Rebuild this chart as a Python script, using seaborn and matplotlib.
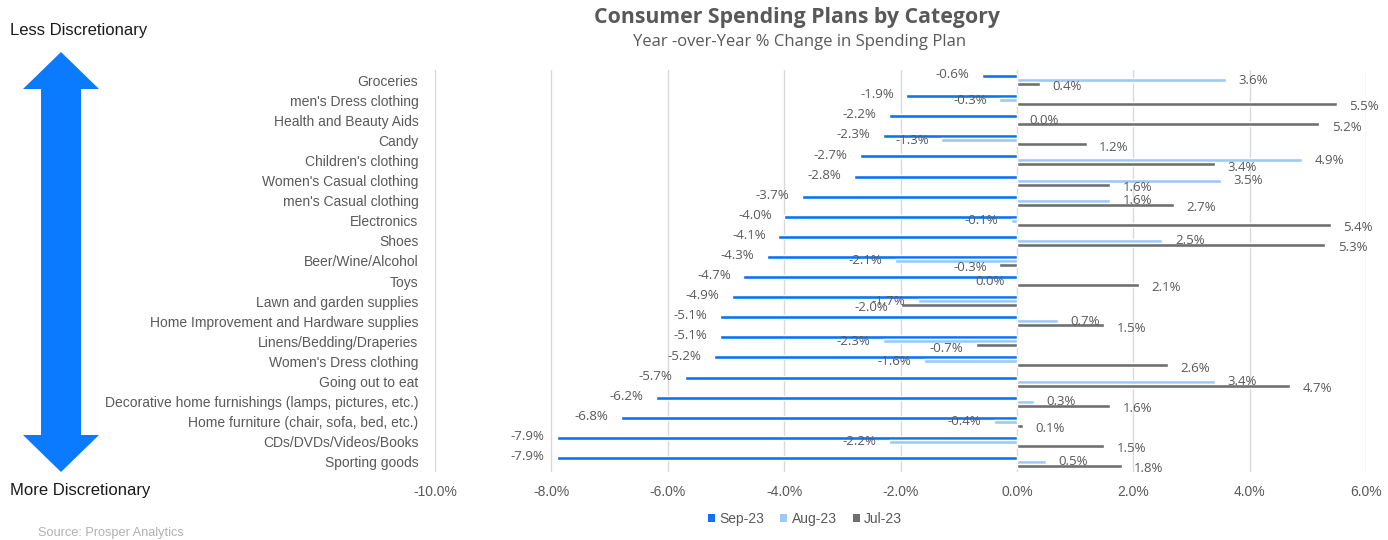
import numpy as np
import pandas as pd
import matplotlib
matplotlib.use("Agg")
import matplotlib.pyplot as plt
from matplotlib.patches import Polygon, Patch
import seaborn as sns

categories = [
    "Groceries", "men's Dress clothing", "Health and Beauty Aids", "Candy",
    "Children's clothing", "Women's Casual clothing", "men's Casual clothing",
    "Electronics", "Shoes", "Beer/Wine/Alcohol", "Toys", "Lawn and garden supplies",
    "Home Improvement and Hardware supplies", "Linens/Bedding/Draperies",
    "Women's Dress clothing", "Going out to eat",
    "Decorative home furnishings (lamps, pictures, etc.)",
    "Home furniture (chair, sofa, bed, etc.)", "CDs/DVDs/Videos/Books", "Sporting goods",
]
sep23 = [-0.6, -1.9, -2.2, -2.3, -2.7, -2.8, -3.7, -4.0, -4.1, -4.3,
         -4.7, -4.9, -5.1, -5.1, -5.2, -5.7, -6.2, -6.8, -7.9, -7.9]
aug23 = [3.6, -0.3, 0.0, -1.3, 4.9, 3.5, 1.6, -0.1, 2.5, -2.1,
         -0.0, -1.7, 0.7, -2.3, -1.6, 3.4, 0.3, -0.4, -2.2, 0.5]
jul23 = [0.4, 5.5, 5.2, 1.2, 3.4, 1.6, 2.7, 5.4, 5.3, -0.3,
         2.1, -2.0, 1.5, -0.7, 2.6, 4.7, 1.6, 0.1, 1.5, 1.8]
series = ["Sep-23", "Aug-23", "Jul-23"]
colors = ["#0A74F2", "#9CC9F7", "#6F6F6F"]
xticks = [-10, -8, -6, -4, -2, 0, 2, 4, 6]

df = pd.DataFrame({
    "category": categories * 3,
    "series": [series[0]] * 20 + [series[1]] * 20 + [series[2]] * 20,
    "value": sep23 + aug23 + jul23,
})

sns.set_style("white")
plt.rcParams["font.family"] = ["Liberation Sans", "DejaVu Sans"]

fig = plt.figure(figsize=(13.88, 5.40), dpi=100)
ax = fig.add_axes([435 / 1388, 1 - 472 / 540, (1366 - 435) / 1388, (472 - 70) / 540])

sns.barplot(data=df, y="category", x="value", hue="series", order=categories,
            hue_order=series, palette=colors, orient="h", width=0.6,
            dodge=True, saturation=1, ax=ax, legend=False, zorder=3)

ax.set_xlim(-10, 6)
ax.set_ylim(19.5, -0.5)
ax.set_xticks(xticks)
ax.set_xticklabels([f"{t:.1f}%" for t in xticks], color="#595959", fontsize=10)
ax.tick_params(axis="x", length=0, pad=9)
ax.tick_params(axis="y", length=0, pad=12)
for lbl in ax.get_yticklabels():
    lbl.set_color("#595959")
    lbl.set_fontsize(10)
ax.set_xlabel("")
ax.set_ylabel("")
ax.grid(axis="x", color="#D9D9D9", linewidth=1, zorder=0)
for s in ax.spines.values():
    s.set_visible(False)

# data labels
vals = [sep23, aug23, jul23]
dy = [1, 0, -2]
for hi, (cont, vs) in enumerate(zip(ax.containers, vals)):
    for bar, v in zip(cont, vs):
        y = bar.get_y() + bar.get_height() / 2
        neg = np.signbit(v)
        ax.annotate(f"{v + 0.0:.1f}%", xy=(v, y),
                    xytext=(-9 if neg else 9, dy[hi]), textcoords="offset points",
                    ha="right" if neg else "left", va="center",
                    fontsize=9.5, color="#595959",
                    family=["Open Sans", "DejaVu Sans"], zorder=4)

# titles
fig.text(797 / 1388, 1 - 18 / 540, "Consumer Spending Plans by Category",
         ha="center", va="center", fontsize=15.3, fontweight="bold",
         color="#595959", family=["Open Sans", "DejaVu Sans"])
fig.text(800 / 1388, 1 - 42 / 540, "Year -over-Year % Change in Spending Plan",
         ha="center", va="center", fontsize=12, color="#595959",
         family=["Open Sans", "DejaVu Sans"])

# discretionary arrow
fig.text(10 / 1388, 1 - 30 / 540, "Less Discretionary", ha="left", va="center",
         fontsize=12, color="#1A1A1A")
fig.text(10 / 1388, 1 - 491 / 540, "More Discretionary", ha="left", va="center",
         fontsize=12, color="#1A1A1A")
pts = [(61, 52), (99, 89), (81, 89), (81, 435), (99, 435), (61, 472),
       (23, 435), (41, 435), (41, 89), (23, 89)]
fig.add_artist(Polygon([(x / 1388, 1 - y / 540) for x, y in pts], closed=True,
                       transform=fig.transFigure, facecolor="#0A7AFF",
                       edgecolor="none"))

# legend
handles = [Patch(facecolor=c, edgecolor="none") for c in colors]
fig.legend(handles, series, loc="center", bbox_to_anchor=(805 / 1388, 1 - 519 / 540),
           ncol=3, frameon=False, fontsize=10, handlelength=0.5, handleheight=0.5,
           handletextpad=0.3, columnspacing=1.2, labelcolor="#595959")

fig.text(38 / 1388, 1 - 533 / 540, "Source: Prosper Analytics", ha="left",
         va="center", fontsize=9.2, color="#B0B0B0")

fig.savefig("out.png", dpi=100, facecolor="white")
